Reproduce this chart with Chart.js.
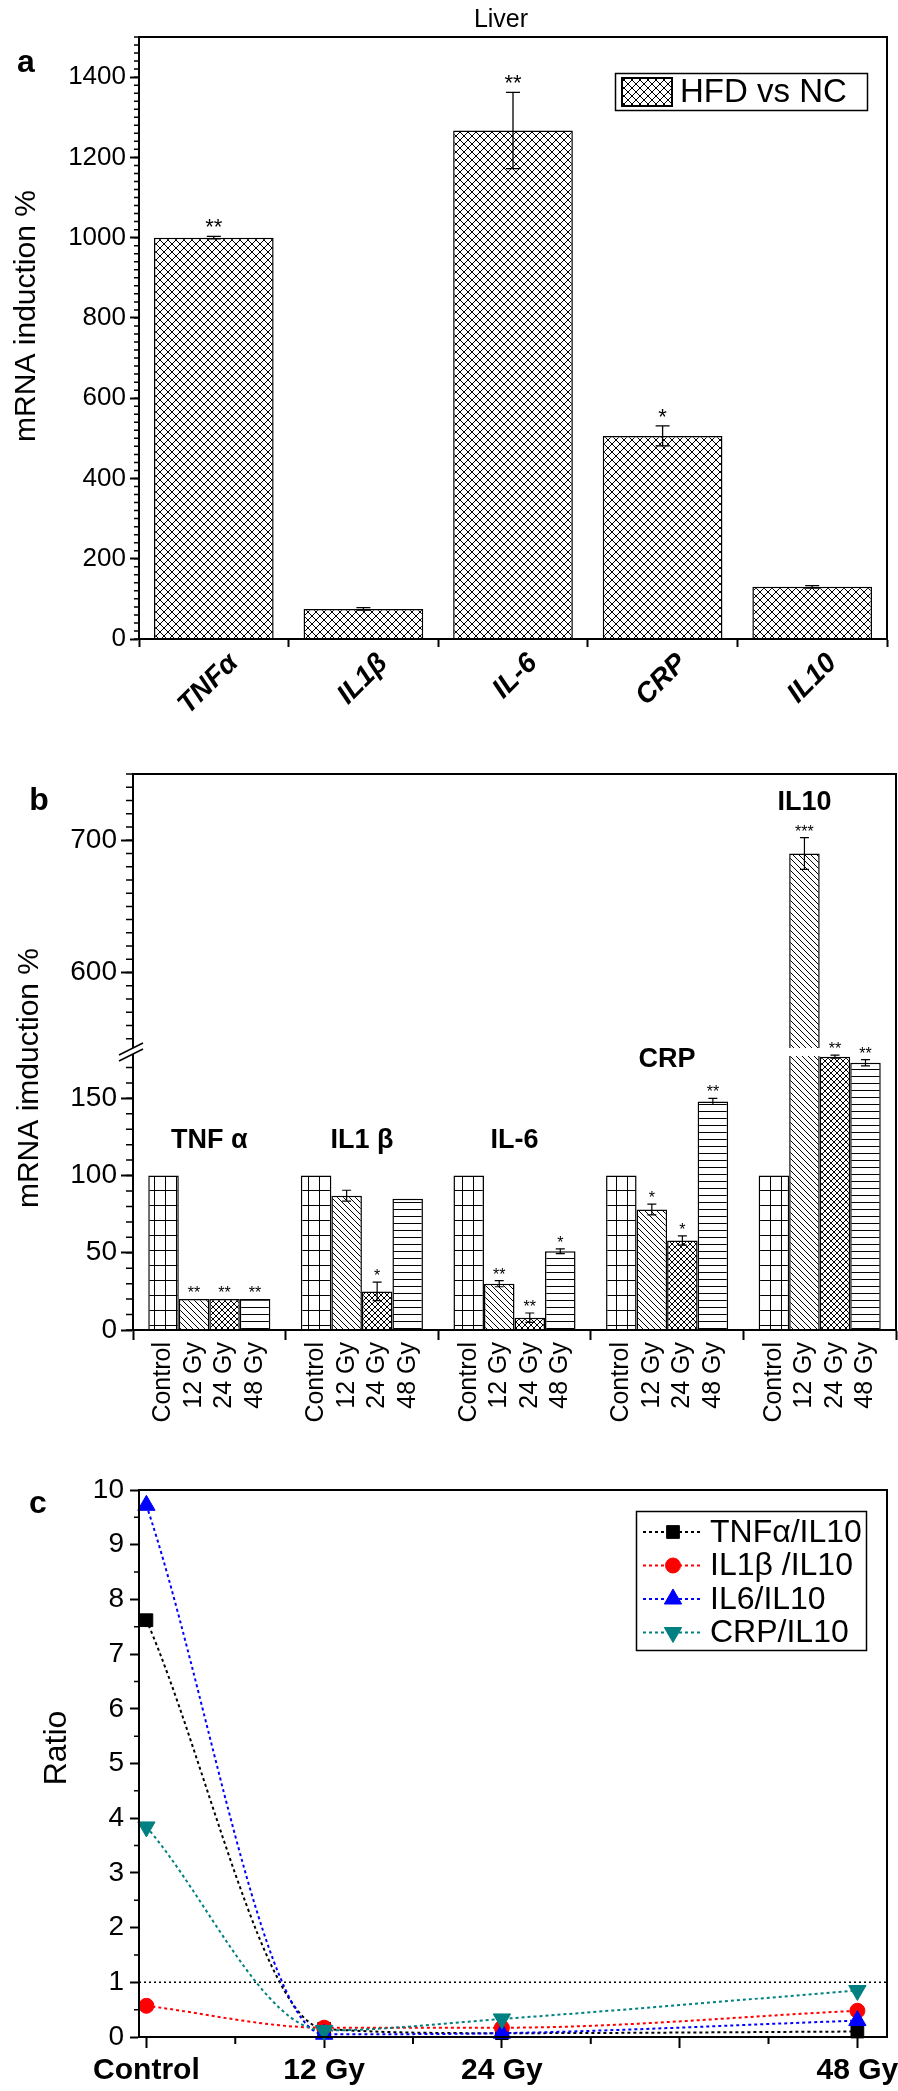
<!DOCTYPE html>
<html><head><meta charset="utf-8">
<script src="https://cdn.jsdelivr.net/npm/chart.js@4.4.1/dist/chart.umd.min.js"></script>
<style>
html,body{margin:0;padding:0;background:#fff;}
body{width:898px;height:2091px;position:relative;overflow:hidden;}
canvas{position:absolute;left:0;}
</style></head><body>
<canvas id="ca" width="898" height="740" style="top:0px"></canvas>
<canvas id="cb" width="898" height="720" style="top:740px"></canvas>
<canvas id="cc" width="898" height="631" style="top:1460px"></canvas>
<script>
// ---------------- DATA ----------------
// Panel a
const genesA = ['TNFα', 'IL1β', 'IL-6', 'CRP', 'IL10'];
const hfdVsNc = [1000, 75, 1267, 506, 130];
const hfdVsNcErr = [3, 3, 95, 25, 3];
const hfdVsNcSig = ['**', '', '**', '*', ''];
const yTicksA = [0, 200, 400, 600, 800, 1000, 1200, 1400];

// Panel b
const groupsB = ['TNF α', 'IL1 β', 'IL-6', 'CRP', 'IL10'];
const dosesB = ['Control', '12 Gy', '24 Gy', '48 Gy'];
const controlB = [100, 100, 100, 100, 100];
const gy12B = [20, 87, 30, 78, 690];
const gy24B = [20, 25, 8, 58, 177];
const gy48B = [20, 85, 51, 148, 173];
const controlErrB = [0, 0, 0, 0, 0];
const gy12ErrB = [0, 3.5, 2, 3.5, 12];
const gy24ErrB = [0, 6, 3, 3, 1];
const gy48ErrB = [0, 0, 1.5, 2, 2];
const controlSigB = ['', '', '', '', ''];
const gy12SigB = ['**', '', '**', '*', '***'];
const gy24SigB = ['**', '*', '**', '*', '**'];
const gy48SigB = ['**', '', '*', '**', '**'];
const yTicksBLow = [0, 50, 100, 150];
const yTicksBHigh = [600, 700];

// Panel c
const dosesC = ['Control', '12 Gy', '24 Gy', '48 Gy'];
const doseGyC = [0, 12, 24, 48];
const tnfIl10 = [7.62, 0.15, 0.07, 0.10];
const il1bIl10 = [0.57, 0.17, 0.17, 0.48];
const il6Il10 = [9.72, 0.05, 0.07, 0.30];
const crpIl10 = [3.84, 0.12, 0.33, 0.85];
const yTicksC = [0, 1, 2, 3, 4, 5, 6, 7, 8, 9, 10];
const xTicksC = [0, 12, 24, 36, 48];
const refLineC = 1;

// ---------------- HELPERS ----------------
const F = "'Liberation Sans', Arial, Helvetica, sans-serif";
const FN = "'Liberation Sans Narrow', 'Arial Narrow', 'Liberation Sans', Arial, sans-serif";
function fnt(size, weight, style, fam) { return (style || 'normal') + ' ' + (weight || 'normal') + ' ' + size + 'px ' + (fam || F); }
function txt(ctx, s, x, y, o) {
  o = o || {};
  ctx.save();
  ctx.font = o.font || fnt(20);
  ctx.fillStyle = o.color || '#000';
  ctx.textAlign = o.align || 'center';
  ctx.textBaseline = o.baseline || 'alphabetic';
  ctx.translate(x, y);
  if (o.rotate) ctx.rotate(o.rotate);
  ctx.fillText(s, 0, 0);
  ctx.restore();
}
function frame(chart, lw) {
  const a = chart.chartArea, ctx = chart.ctx;
  ctx.save(); ctx.strokeStyle = '#000'; ctx.lineWidth = lw || 2;
  ctx.strokeRect(a.left, a.top, a.right - a.left, a.bottom - a.top);
  ctx.restore();
}
function minorTicks(chart, id, from, to, step, len, lw) {
  const s = chart.scales[id], ctx = chart.ctx;
  ctx.save(); ctx.strokeStyle = '#000'; ctx.lineWidth = lw || 1.5; ctx.beginPath();
  const n = Math.round((to - from) / step);
  for (let k = 0; k <= n; k++) {
    const v = from + k * step;
    const p = s.getPixelForValue(v);
    if (s.isHorizontal()) { ctx.moveTo(p, s.top); ctx.lineTo(p, s.top + len); }
    else { ctx.moveTo(s.right - len, p); ctx.lineTo(s.right, p); }
  }
  ctx.stroke(); ctx.restore();
}
function errBar(ctx, x, yT, yB, cap) {
  ctx.beginPath();
  ctx.moveTo(x, yT); ctx.lineTo(x, yB);
  ctx.moveTo(x - cap / 2, yT); ctx.lineTo(x + cap / 2, yT);
  ctx.moveTo(x - cap / 2, yB); ctx.lineTo(x + cap / 2, yB);
  ctx.stroke();
}
function makePattern(w, h, draw) {
  const c = document.createElement('canvas'); c.width = w; c.height = h;
  const x = c.getContext('2d');
  x.fillStyle = '#fff'; x.fillRect(0, 0, w, h);
  x.strokeStyle = '#000'; x.lineWidth = 1;
  draw(x, w, h);
  return x.createPattern(c, 'repeat');
}
function back(x, w, h) { x.beginPath(); for (const d of [-w, 0, w]) { x.moveTo(d, 0); x.lineTo(d + w, h); } x.stroke(); }
function fwd(x, w, h) { x.beginPath(); for (const d of [-w, 0, w]) { x.moveTo(d + w, 0); x.lineTo(d, h); } x.stroke(); }
const patCrossA = makePattern(8, 8, (x, w, h) => { back(x, w, h); fwd(x, w, h); });
const patGrid = makePattern(11, 15, (x, w, h) => { x.beginPath(); x.moveTo(0.5, 0); x.lineTo(0.5, h); x.moveTo(0, 0.5); x.lineTo(w, 0.5); x.stroke(); });
const patBack = makePattern(6, 6, back);
const patCross = makePattern(6, 6, (x, w, h) => { back(x, w, h); fwd(x, w, h); });
const patHoriz = makePattern(4, 7, (x, w, h) => { x.beginPath(); x.moveTo(0, 0.5); x.lineTo(w, 0.5); x.stroke(); });

const axisGrid = (len) => ({ drawOnChartArea: false, tickLength: len, tickWidth: 2, color: '#000' });
const axisBorder = { width: 2, color: '#000' };

// ---------------- PANEL A ----------------
const plugA = {
  id: 'plugA',
  afterDraw(chart) {
    const ctx = chart.ctx, ys = chart.scales.y, meta = chart.getDatasetMeta(0);
    frame(chart, 2);
    minorTicks(chart, 'y', 0, 1500, 20, 5, 1.5);
    ctx.save(); ctx.strokeStyle = '#000'; ctx.lineWidth = 1.3;
    meta.data.forEach((el, i) => {
      const v = hfdVsNc[i], e = hfdVsNcErr[i];
      const yT = ys.getPixelForValue(v + e), yB = ys.getPixelForValue(v - e);
      errBar(ctx, el.x, yT, yB, 14);
      if (hfdVsNcSig[i]) txt(ctx, hfdVsNcSig[i], el.x, yT - 2, { font: fnt(22) });
    });
    ctx.restore();
    txt(ctx, 'Liver', 501, 27, { font: fnt(25, 'normal', 'normal', FN) });
    txt(ctx, 'a', 26, 72, { font: fnt(32, 'bold') });
    txt(ctx, 'mRNA induction %', 27, 316, { font: fnt(30), rotate: -Math.PI / 2, baseline: 'middle' });
    // legend
    const ds = chart.data.datasets[0];
    ctx.save();
    ctx.strokeStyle = '#000'; ctx.lineWidth = 1.5;
    ctx.strokeRect(615.5, 73.5, 252, 37);
    ctx.fillStyle = ds.backgroundColor; ctx.fillRect(622, 78, 50, 28);
    ctx.lineWidth = 2; ctx.strokeRect(622, 78, 50, 28);
    ctx.restore();
    txt(ctx, ds.label, 680, 93, { font: fnt(33), align: 'left', baseline: 'middle' });
  }
};
new Chart(document.getElementById('ca'), {
  type: 'bar',
  data: {
    labels: genesA,
    datasets: [{ label: 'HFD vs NC', data: hfdVsNc, backgroundColor: patCrossA, borderColor: '#000', borderWidth: 1.5, barPercentage: 0.8, categoryPercentage: 1 }]
  },
  options: {
    responsive: false, animation: false, events: [],
    layout: { padding: { top: 37, right: 11, left: 0, bottom: 0 } },
    plugins: { legend: { display: false }, tooltip: { enabled: false } },
    scales: {
      x: {
        offset: true, grid: Object.assign(axisGrid(8), { offset: true }), border: axisBorder,
        ticks: { color: '#000', font: { family: F, size: 28, weight: 'bold', style: 'italic' }, minRotation: 45, maxRotation: 45, padding: 0, labelOffset: 20, autoSkip: false },
        afterFit: s => { s.height = 101; s.paddingLeft = 0; s.paddingRight = 0; }
      },
      y: {
        min: 0, max: 1500,
        afterBuildTicks: s => { s.ticks = yTicksA.map(v => ({ value: v })); },
        grid: axisGrid(9), border: axisBorder,
        ticks: { color: '#000', font: { family: FN, size: 26 }, padding: 4, callback: v => String(v) },
        afterFit: s => { s.width = 139; }
      }
    }
  },
  plugins: [plugA]
});

// ---------------- PANEL B ----------------
const B_LOW_MAX = 180, B_HIGH_MIN = 540, B_HIGH_MAX = 750;
const seriesB = [controlB, gy12B, gy24B, gy48B];
const errsB = [controlErrB, gy12ErrB, gy24ErrB, gy48ErrB];
const sigsB = [controlSigB, gy12SigB, gy24SigB, gy48SigB];
const patsB = [patGrid, patBack, patCross, patHoriz];
const groupLabelB = [
  { axis: 'yLow', v: 118, bar: null }, { axis: 'yLow', v: 118, bar: null }, { axis: 'yLow', v: 118, bar: null },
  { axis: 'yLow', v: 170, bar: null }, { axis: 'yHigh', v: 723, bar: 1 }
];
const dsB = [];
seriesB.forEach((vals, d) => dsB.push({
  label: dosesB[d], data: vals.map(v => Math.min(v, B_LOW_MAX)), yAxisID: 'yLow', stack: 's' + d,
  backgroundColor: patsB[d], borderColor: '#000', borderWidth: 1.5, categoryPercentage: 0.8, barPercentage: 1
}));
seriesB.forEach((vals, d) => dsB.push({
  label: dosesB[d] + ' (upper)', data: vals.map(v => v > B_HIGH_MIN ? [B_HIGH_MIN, v] : null), yAxisID: 'yHigh', stack: 's' + d,
  backgroundColor: patsB[d], borderColor: '#000', borderWidth: 1.5, categoryPercentage: 0.8, barPercentage: 1
}));
const plugB = {
  id: 'plugB',
  afterDraw(chart) {
    const ctx = chart.ctx, yL = chart.scales.yLow, yH = chart.scales.yHigh, xs = chart.scales.x;
    frame(chart, 2);
    minorTicks(chart, 'yLow', 0, B_LOW_MAX, 10, 7, 1.5);
    minorTicks(chart, 'yHigh', B_HIGH_MIN, B_HIGH_MAX, 10, 7, 1.5);
    const b = yL.top;
    ctx.save(); ctx.fillStyle = '#fff';
    for (let d = 0; d < 4; d++) {
      chart.getDatasetMeta(d).data.forEach((el, i) => {
        if (seriesB[d][i] > B_LOW_MAX) ctx.fillRect(el.x - el.width / 2 - 2, b - 4, el.width + 4, 8);
      });
    }
    const ax = yL.right;
    ctx.beginPath(); ctx.moveTo(ax - 14, b + 3); ctx.lineTo(ax + 10, b - 9); ctx.lineTo(ax + 10, b - 3); ctx.lineTo(ax - 14, b + 9); ctx.closePath(); ctx.fill();
    ctx.strokeStyle = '#000'; ctx.lineWidth = 1.5;
    ctx.beginPath(); ctx.moveTo(ax - 14, b + 3); ctx.lineTo(ax + 10, b - 9); ctx.moveTo(ax - 14, b + 9); ctx.lineTo(ax + 10, b - 3); ctx.stroke();
    ctx.lineWidth = 1.2;
    for (let d = 0; d < 4; d++) {
      chart.getDatasetMeta(d).data.forEach((el, i) => {
        const v = seriesB[d][i], e = errsB[d][i];
        const sc = v > B_LOW_MAX ? yH : yL;
        let top = sc.getPixelForValue(v);
        if (e > 0) {
          const yT = sc.getPixelForValue(v + e), yB = sc.getPixelForValue(v - e);
          errBar(ctx, el.x, yT, yB, 9);
          top = yT;
        }
        if (sigsB[d][i]) txt(ctx, sigsB[d][i], el.x, top - 1, { font: fnt(16) });
      });
    }
    ctx.restore();
    for (let d = 0; d < 4; d++) {
      chart.getDatasetMeta(d).data.forEach(el => {
        txt(ctx, dosesB[d], el.x, xs.top + 12, { font: fnt(25), rotate: -Math.PI / 2, align: 'right', baseline: 'middle' });
      });
    }
    groupsB.forEach((g, i) => {
      const p = groupLabelB[i];
      const x = p.bar === null ? xs.getPixelForValue(i) : chart.getDatasetMeta(p.bar).data[i].x;
      txt(ctx, g, x, chart.scales[p.axis].getPixelForValue(p.v), { font: fnt(27, 'bold', 'normal', FN) });
    });
    txt(ctx, 'b', 39, 70, { font: fnt(32, 'bold') });
    txt(ctx, 'mRNA imduction %', 30, 338, { font: fnt(30), rotate: -Math.PI / 2, baseline: 'middle' });
  }
};
new Chart(document.getElementById('cb'), {
  type: 'bar',
  data: { labels: groupsB, datasets: dsB },
  options: {
    responsive: false, animation: false, events: [],
    layout: { padding: { top: 34, right: 2, left: 0, bottom: 0 } },
    plugins: { legend: { display: false }, tooltip: { enabled: false } },
    scales: {
      x: {
        offset: true, grid: Object.assign(axisGrid(10), { offset: true }), border: axisBorder,
        ticks: { display: false },
        afterFit: s => { s.height = 130; s.paddingLeft = 0; s.paddingRight = 0; }
      },
      yLow: {
        type: 'linear', position: 'left', stack: 'brk', stackWeight: 1, weight: 1, stacked: false,
        min: 0, max: B_LOW_MAX,
        afterBuildTicks: s => { s.ticks = yTicksBLow.map(v => ({ value: v })); },
        grid: axisGrid(12), border: axisBorder,
        ticks: { color: '#000', font: { family: FN, size: 28 }, padding: 4, callback: v => String(v) },
        afterFit: s => { s.width = 133; }
      },
      yHigh: {
        type: 'linear', position: 'left', stack: 'brk', stackWeight: 1, weight: 2, stacked: false,
        min: B_HIGH_MIN, max: B_HIGH_MAX,
        afterBuildTicks: s => { s.ticks = yTicksBHigh.map(v => ({ value: v })); },
        grid: axisGrid(12), border: axisBorder,
        ticks: { color: '#000', font: { family: FN, size: 28 }, padding: 4, callback: v => String(v) },
        afterFit: s => { s.width = 133; }
      }
    }
  },
  plugins: [plugB]
});

// ---------------- PANEL C ----------------
const seriesC = [
  { label: 'TNFα/IL10', vals: tnfIl10, color: '#000000', style: 'rect', rot: 0, r: 9, order: 4 },
  { label: 'IL1β /IL10', vals: il1bIl10, color: '#ff0000', style: 'circle', rot: 0, r: 7.5, order: 3 },
  { label: 'IL6/IL10', vals: il6Il10, color: '#0000ff', style: 'triangle', rot: 0, r: 10, order: 2 },
  { label: 'CRP/IL10', vals: crpIl10, color: '#008080', style: 'triangle', rot: 180, r: 10, order: 1 }
];
const dsC = seriesC.map(s => ({
  label: s.label, data: doseGyC.map((x, i) => ({ x: x, y: s.vals[i] })),
  borderColor: s.color, backgroundColor: s.color, pointBackgroundColor: s.color, pointBorderColor: s.color,
  borderWidth: 2, borderDash: [3, 3], pointStyle: s.style, pointRotation: s.rot, pointRadius: s.r, pointBorderWidth: 1,
  tension: 0.4, cubicInterpolationMode: 'monotone', fill: false, clip: false, order: s.order
}));
const plugC = {
  id: 'plugC',
  beforeDatasetsDraw(chart) {
    const ctx = chart.ctx, a = chart.chartArea, y = chart.scales.y.getPixelForValue(refLineC);
    ctx.save(); ctx.strokeStyle = '#000'; ctx.lineWidth = 1.5; ctx.setLineDash([2, 3]);
    ctx.beginPath(); ctx.moveTo(a.left, y); ctx.lineTo(a.right, y); ctx.stroke(); ctx.restore();
  },
  afterDraw(chart) {
    const ctx = chart.ctx;
    frame(chart, 2);
    minorTicks(chart, 'y', 0.5, 9.5, 1, 5, 1.5);
    minorTicks(chart, 'x', 6, 42, 12, 7, 2);
    ctx.save(); ctx.strokeStyle = '#000'; ctx.lineWidth = 1.5; ctx.strokeRect(636.5, 51.5, 230, 139); ctx.restore();
    chart.data.datasets.forEach((ds, i) => {
      const y = 72 + i * 33.5;
      ctx.save();
      ctx.strokeStyle = ds.borderColor; ctx.lineWidth = 2; ctx.setLineDash(ds.borderDash);
      ctx.beginPath(); ctx.moveTo(643, y); ctx.lineTo(703, y); ctx.stroke();
      ctx.setLineDash([]);
      ctx.fillStyle = ds.pointBackgroundColor; ctx.strokeStyle = ds.pointBorderColor; ctx.lineWidth = 1;
      Chart.helpers.drawPoint(ctx, { pointStyle: ds.pointStyle, rotation: ds.pointRotation, radius: ds.pointRadius, borderWidth: 1 }, 673, y);
      ctx.restore();
      txt(ctx, ds.label, 710, y + 1, { font: fnt(32, 'normal', 'normal', FN), align: 'left', baseline: 'middle' });
    });
    txt(ctx, 'c', 38, 53, { font: fnt(32, 'bold') });
    txt(ctx, 'Ratio', 57, 288, { font: fnt(32), rotate: -Math.PI / 2, baseline: 'middle' });
  }
};
new Chart(document.getElementById('cc'), {
  type: 'line',
  data: { datasets: dsC },
  options: {
    responsive: false, animation: false, events: [],
    layout: { padding: { top: 30, right: 11, left: 0, bottom: 0 } },
    plugins: { legend: { display: false }, tooltip: { enabled: false } },
    scales: {
      x: {
        type: 'linear', min: -0.5, max: 50,
        afterBuildTicks: s => { s.ticks = xTicksC.map(v => ({ value: v })); },
        grid: axisGrid(11), border: axisBorder,
        ticks: { color: '#000', font: { family: FN, size: 30, weight: 'bold' }, padding: 5, autoSkip: false, maxRotation: 0,
          callback: v => { const i = doseGyC.indexOf(v); return i >= 0 ? dosesC[i] : ''; } },
        afterFit: s => { s.height = 54; s.paddingLeft = 0; s.paddingRight = 0; }
      },
      y: {
        min: 0, max: 10,
        afterBuildTicks: s => { s.ticks = yTicksC.map(v => ({ value: v })); },
        grid: axisGrid(9), border: axisBorder,
        ticks: { color: '#000', font: { family: FN, size: 28 }, padding: 6, callback: v => String(v) },
        afterFit: s => { s.width = 139; }
      }
    }
  },
  plugins: [plugC]
});
</script>
</body></html>
